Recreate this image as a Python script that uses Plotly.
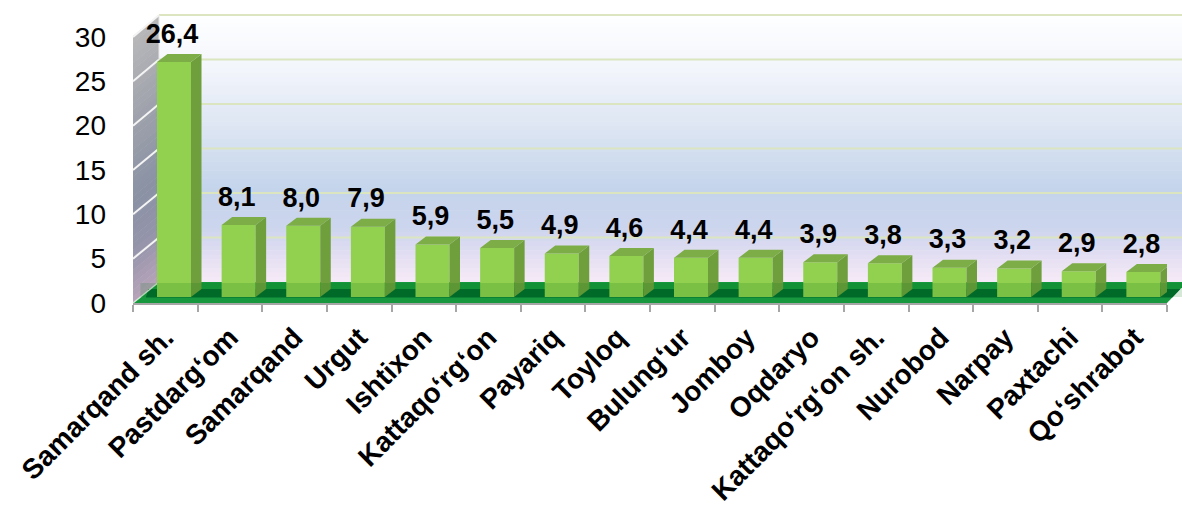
import plotly.graph_objects as go

# ---------------- data ----------------
categories = ["Samarqand sh.", "Pastdarg‘om", "Samarqand", "Urgut", "Ishtixon",
              "Kattaqo‘rg‘on", "Payariq", "Toyloq", "Bulung‘ur", "Jomboy", "Oqdaryo",
              "Kattaqo‘rg‘on sh.", "Nurobod", "Narpay", "Paxtachi", "Qo‘shrabot"]
values = [26.4, 8.1, 8.0, 7.9, 5.9, 5.5, 4.9, 4.6, 4.4, 4.4, 3.9, 3.8, 3.3, 3.2, 2.9, 2.8]
y_ticks = [0, 5, 10, 15, 20, 25, 30]
value_labels = [f"{v:.1f}".replace(".", ",") for v in values]

FONT = "Liberation Sans, Arial, sans-serif"

# ---------------- geometry (pixels) ----------------
W, H = 1182, 508
ML, MR, MT, MB = 133, 0, 15, 205
PW, PH = W - ML - MR, H - MT - MB
X0_PX, X1_PX = 133, 1167          # front edge of floor
Y0_PX = 303                        # front baseline (value 0)
FRONT_TOP_PX = 37                  # value 30 on front axis
BACK_X_PX = 159                    # back wall left edge
BACK_RIGHT_X_PX = 1187
BACK_Y0_PX = 282                   # back wall value 0
BACK_TOP_PX = 15                   # back wall value 30
BAR_Y0_PX = 297                    # bar front-face base
YMAX = 30

n = len(categories)
CAT_PX = (X1_PX - X0_PX) / n
front_scale = (Y0_PX - FRONT_TOP_PX) / YMAX
back_scale = (BACK_Y0_PX - BACK_TOP_PX) / YMAX
bar_scale = back_scale

BAR_OFFSET = -0.5 + 24 / CAT_PX
BAR_WIDTH = 34 / CAT_PX
DX = 10.5 / CAT_PX
DY = 8 / bar_scale
LABEL_DX = BAR_OFFSET + BAR_WIDTH / 2 - 0.03
LABEL_DY = DY + 0.5


def px(x):
    return (x - ML) / PW


def py(y):
    return (H - MB - y) / PH


def lerp(stops, t):
    for (t0, c0), (t1, c1) in zip(stops[:-1], stops[1:]):
        if t0 <= t <= t1:
            f = (t - t0) / (t1 - t0) if t1 > t0 else 0
            c = [round(a + (b - a) * f) for a, b in zip(c0, c1)]
            return f"rgb({c[0]},{c[1]},{c[2]})"
    c = stops[-1][1]
    return f"rgb({c[0]},{c[1]},{c[2]})"


shapes = []

# back wall gradient
back_stops = [(15, (255, 255, 255)), (70, (242, 245, 251)), (130, (220, 229, 242)),
              (190, (196, 212, 235)), (228, (204, 213, 238)), (258, (228, 223, 243)),
              (282, (246, 234, 246))]
NB = 60
for k in range(NB):
    y_a = BACK_TOP_PX + (BACK_Y0_PX - BACK_TOP_PX) * k / NB
    y_b = BACK_TOP_PX + (BACK_Y0_PX - BACK_TOP_PX) * (k + 1) / NB
    shapes.append(dict(type="rect", xref="paper", yref="paper",
                       x0=px(BACK_X_PX), x1=1, y0=py(y_b), y1=py(y_a) + 0.002,
                       fillcolor=lerp(back_stops, (y_a + y_b) / 2), line=dict(width=0),
                       layer="below"))

# left wall gradient
left_stops = [(0, (184, 184, 186)), (0.3, (160, 163, 172)), (0.6, (138, 146, 164)),
              (0.8, (148, 148, 170)), (1.0, (184, 164, 186))]
NL = 40
for k in range(NL):
    f0, f1 = k / NL, (k + 1) / NL
    fy0 = FRONT_TOP_PX - 1 + (Y0_PX - FRONT_TOP_PX + 1) * f0
    fy1 = FRONT_TOP_PX - 1 + (Y0_PX - FRONT_TOP_PX + 1) * f1 + 0.6
    by0 = BACK_TOP_PX + (BACK_Y0_PX - BACK_TOP_PX) * f0
    by1 = BACK_TOP_PX + (BACK_Y0_PX - BACK_TOP_PX) * f1 + 0.6
    path = (f"M{px(ML)},{py(fy0)} L{px(BACK_X_PX)},{py(by0)} "
            f"L{px(BACK_X_PX)},{py(by1)} L{px(ML)},{py(fy1)} Z")
    shapes.append(dict(type="path", xref="paper", yref="paper", path=path,
                       fillcolor=lerp(left_stops, (f0 + f1) / 2), line=dict(width=0),
                       layer="below"))

# back wall gridlines
for v in y_ticks[1:]:
    yb = BACK_Y0_PX - v * back_scale
    shapes.append(dict(type="line", xref="paper", yref="paper",
                       x0=px(BACK_X_PX), x1=1, y0=py(yb), y1=py(yb),
                       line=dict(color="#dbe5bf", width=2), layer="below"))
# left wall gridlines
for v in y_ticks[1:]:
    yf = Y0_PX - v * front_scale
    yb = BACK_Y0_PX - v * back_scale
    shapes.append(dict(type="line", xref="paper", yref="paper",
                       x0=px(ML), x1=px(BACK_X_PX), y0=py(yf), y1=py(yb),
                       line=dict(color="#f4f4f4", width=2), layer="below"))
# back wall left edge
shapes.append(dict(type="line", xref="paper", yref="paper",
                   x0=px(BACK_X_PX), x1=px(BACK_X_PX), y0=py(BACK_Y0_PX), y1=py(BACK_TOP_PX),
                   line=dict(color="#e8e8e8", width=1), layer="below"))


# floor
def xl(y):
    return ML + (Y0_PX - y) * (BACK_X_PX - ML) / (Y0_PX - BACK_Y0_PX)


def xr(y):
    return X1_PX + (Y0_PX - y) * (BACK_RIGHT_X_PX - X1_PX) / (Y0_PX - BACK_Y0_PX)


floor = (f"M{px(ML)},{py(Y0_PX)} L{px(X1_PX)},{py(Y0_PX)} "
         f"L{px(BACK_RIGHT_X_PX)},{py(BACK_Y0_PX)} L{px(BACK_X_PX)},{py(BACK_Y0_PX)} Z")
shapes.append(dict(type="path", xref="paper", yref="paper", path=floor,
                   fillcolor="#17983f", line=dict(width=0), layer="below"))
ya, yb2 = 289, 297.5
band = (f"M{px(xl(ya) - 2)},{py(ya)} L{px(xr(ya))},{py(ya)} "
        f"L{px(xr(yb2))},{py(yb2)} L{px(xl(yb2) + 6)},{py(yb2)} Z")
shapes.append(dict(type="path", xref="paper", yref="paper", path=band,
                   fillcolor="#006a2e", line=dict(width=0), layer="below"))
# floor left edge highlight
shapes.append(dict(type="line", xref="paper", yref="paper",
                   x0=px(ML), x1=px(BACK_X_PX), y0=py(Y0_PX), y1=py(BACK_Y0_PX),
                   line=dict(color="#d8e8d8", width=1.5), layer="below"))

# tint over the bottom of bars (floor transparency)
shapes.append(dict(type="rect", xref="paper", yref="paper",
                   x0=px(xl(BAR_Y0_PX)), x1=px(X1_PX + 15), y0=py(BAR_Y0_PX), y1=py(BACK_Y0_PX + 1),
                   fillcolor="rgba(0,110,10,0.16)", line=dict(width=0), layer="above"))

# ---------------- traces ----------------
fig = go.Figure()

# category axis holder
fig.add_trace(go.Scatter(x=categories, y=[0] * n, mode="markers",
                         marker=dict(opacity=0, size=1), hoverinfo="skip",
                         showlegend=False, xaxis="x", yaxis="y"))

idx = list(range(n))
fig.add_trace(go.Bar(x=idx, y=values, offset=BAR_OFFSET, width=BAR_WIDTH,
                     marker=dict(color="#92d050", line=dict(width=0)),
                     xaxis="x2", yaxis="y3", showlegend=False, hoverinfo="skip"))

side_x, side_y, top_x, top_y = [], [], [], []
for i, v in zip(idx, values):
    x_left = i + BAR_OFFSET
    x_right = x_left + BAR_WIDTH
    side_x += [x_right, x_right, x_right + DX, x_right + DX, x_right, None]
    side_y += [0, v, v + DY, DY, 0, None]
    top_x += [x_left, x_right, x_right + DX, x_left + DX, x_left, None]
    top_y += [v, v, v + DY, v + DY, v, None]

fig.add_trace(go.Scatter(x=side_x, y=side_y, mode="lines", fill="toself",
                         fillcolor="#6f9e3c", line=dict(width=0),
                         xaxis="x2", yaxis="y3", showlegend=False, hoverinfo="skip"))
fig.add_trace(go.Scatter(x=top_x, y=top_y, mode="lines", fill="toself",
                         fillcolor="#7cad46", line=dict(width=0),
                         xaxis="x2", yaxis="y3", showlegend=False, hoverinfo="skip"))

fig.add_trace(go.Scatter(x=[i + LABEL_DX for i in idx], y=[v + LABEL_DY for v in values],
                         mode="text", text=value_labels, textposition="top center",
                         textfont=dict(family=FONT, size=27, color="black", weight="bold"),
                         xaxis="x2", yaxis="y3", showlegend=False, hoverinfo="skip",
                         cliponaxis=False))

x_dom = [0, (X1_PX - ML) / PW]
fig.update_layout(
    width=W, height=H,
    margin=dict(l=ML, r=MR, t=MT, b=MB, autoexpand=False),
    paper_bgcolor="white", plot_bgcolor="rgba(0,0,0,0)",
    showlegend=False,
    shapes=shapes,
    xaxis=dict(type="category", categoryorder="array", categoryarray=categories,
               range=[-0.5, n - 0.5], domain=x_dom, anchor="y",
               tickson="boundaries", ticks="outside", ticklen=7, tickwidth=2,
               tickcolor="#a6a6a6", showline=True, linecolor="#a6a6a6", linewidth=2,
               tickangle=-45, showgrid=False, zeroline=False, automargin=False,
               ticklabelstandoff=5,
               tickfont=dict(family=FONT, size=28, color="black", weight="bold")),
    xaxis2=dict(overlaying="x", range=[-0.5, n - 0.5], visible=False, anchor="y3"),
    yaxis=dict(range=[0, PH / front_scale], domain=[0, 1], anchor="x",
               tickmode="array", tickvals=y_ticks, showgrid=False, zeroline=False,
               showline=False, ticks="", ticklabelstandoff=26, automargin=False,
               tickfont=dict(family=FONT, size=28, color="black")),
    yaxis3=dict(overlaying="y", anchor="x2", visible=False,
                range=[-(Y0_PX - BAR_Y0_PX) / bar_scale, (BAR_Y0_PX - MT) / bar_scale]),
)

fig.write_html("out.html", config={"displayModeBar": False},
               post_script="document.body.style.margin='0px';document.body.style.overflow='hidden';")
